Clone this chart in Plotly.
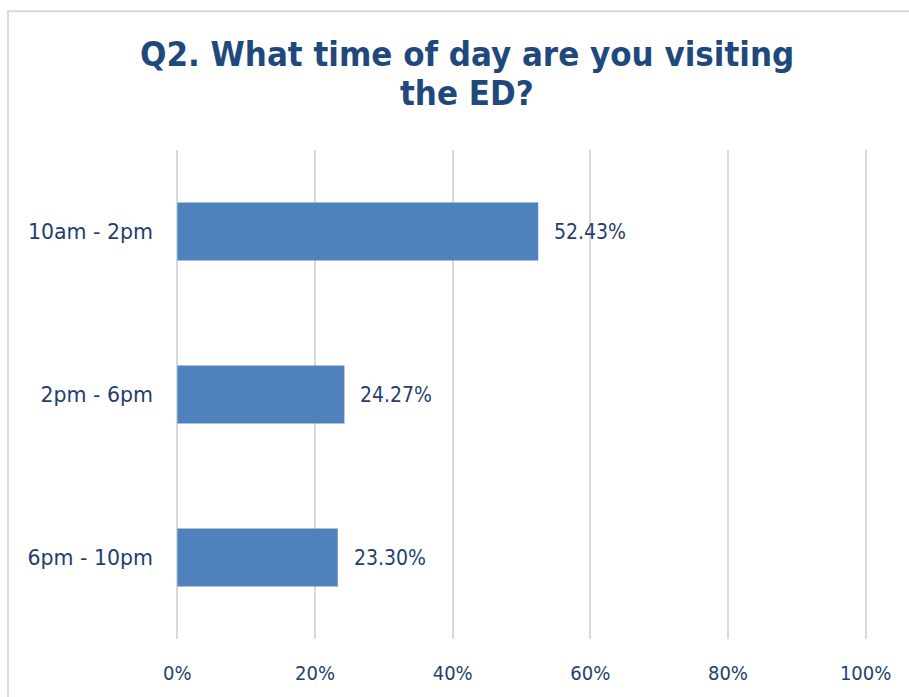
import plotly.graph_objects as go

categories = ["10am - 2pm", "2pm - 6pm", "6pm - 10pm"]
shares = [52.43, 24.27, 23.30]
tick_values = [0, 20, 40, 60, 80, 100]
tick_labels = ["0%", "20%", "40%", "60%", "80%", "100%"]
title_lines = ["Q2. What time of day are you visiting", "the ED?"]

NAVY = "#1F497D"
TEXT = "#243F6E"
BAR = "#4F81BD"
GRID = "#D9D9D9"
COND = "DejaVu Sans Condensed"
WIDE = "DejaVu Sans"

# plot area in pixels: x 176..867, y 150..643
PLOT_L, PLOT_R, PLOT_T, PLOT_B = 176, 867, 150, 643
PW, PH = PLOT_R - PLOT_L, PLOT_B - PLOT_T


def px_x(px):
    return (px - PLOT_L) / PW


def px_y(py):
    return (PLOT_B - py) / PH


fig = go.Figure(
    go.Bar(
        x=shares,
        y=categories,
        orientation="h",
        width=0.355,
        marker=dict(color=BAR, line=dict(width=0)),
        hoverinfo="skip",
    )
)

# value labels to the right of each bar
for cat, val in zip(categories, shares):
    fig.add_annotation(
        x=val, y=cat, xref="x", yref="y",
        text=f"{val:.2f}%", showarrow=False,
        xanchor="left", xshift=14,
        font=dict(family=COND, size=21, color=TEXT),
    )

# two-line bold title
for line, cy in zip(title_lines, [53, 93]):
    fig.add_annotation(
        x=px_x(467), y=px_y(cy), xref="paper", yref="paper",
        text=f"<b>{line}</b>", showarrow=False,
        xanchor="center", yanchor="middle",
        font=dict(family=COND, size=34.5, color=NAVY),
    )

# outer chart frame
fig.add_shape(
    type="rect", xref="paper", yref="paper",
    x0=px_x(8), x1=1.3, y0=-0.3, y1=px_y(10),
    line=dict(color=GRID, width=2), layer="below",
)

fig.update_layout(
    width=909, height=697,
    margin=dict(l=PLOT_L, r=909 - PLOT_R, t=PLOT_T, b=697 - PLOT_B),
    paper_bgcolor="white", plot_bgcolor="white",
    showlegend=False,
    xaxis=dict(
        range=[-0.2, 100.2], tickvals=tick_values, ticktext=tick_labels,
        showgrid=True, gridcolor=GRID, gridwidth=2,
        zeroline=False, showline=False, ticks="",
        ticklabelstandoff=20,
        tickfont=dict(family=COND, size=20, color=TEXT),
    ),
    yaxis=dict(
        categoryorder="array", categoryarray=categories[::-1],
        range=[-0.5, 2.5], showgrid=False, zeroline=False,
        showline=False, ticks="", ticklabelstandoff=22,
        tickfont=dict(family=WIDE, size=20.5, color=TEXT),
    ),
)

fig.write_html("out.html")
